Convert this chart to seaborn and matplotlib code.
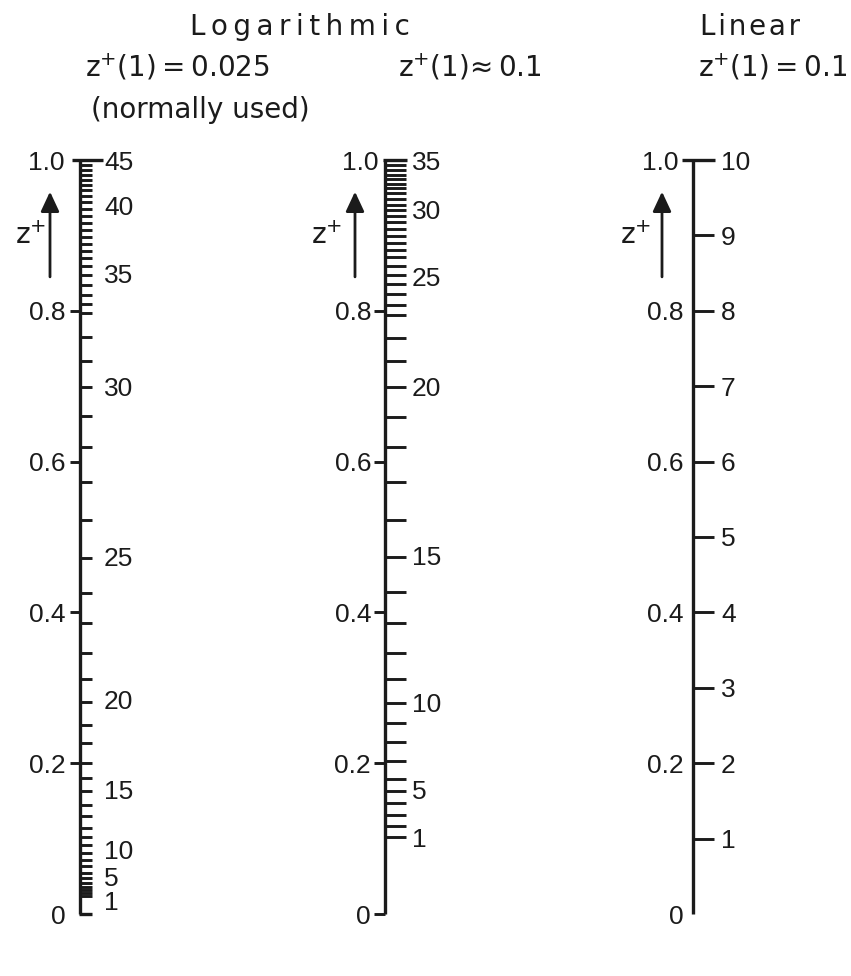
import matplotlib
matplotlib.use("Agg")
import matplotlib.pyplot as plt
import pandas as pd
import seaborn as sns

# ------------------------------------------------------------------ data
z_marks = [0.0, 0.2, 0.4, 0.6, 0.8, 1.0]
z_mark_labels = ["0", "0.2", "0.4", "0.6", "0.8", "1.0"]

# logarithmic grid, z+(1)=0.025 (normally used): z position of every grid tick
log025_ticks = [1.000, 0.993, 0.987, 0.980, 0.973, 0.967, 0.960, 0.952, 0.944,
                0.935, 0.926, 0.916, 0.907, 0.898, 0.889, 0.879, 0.870, 0.859,
                0.847, 0.834, 0.821, 0.809, 0.797, 0.765, 0.733, 0.699, 0.660,
                0.619, 0.573, 0.523, 0.472, 0.426, 0.386, 0.346, 0.312, 0.281,
                0.251, 0.227, 0.200, 0.180, 0.163, 0.145, 0.130, 0.114, 0.102,
                0.092, 0.081, 0.072, 0.064, 0.054, 0.048, 0.041, 0.036, 0.032,
                0.028, 0.024]
log025_label_values = [45, 40, 35, 30, 25, 20, 15, 10, 5, 1]
log025_label_z = [1.0, 0.940, 0.850, 0.699, 0.4735, 0.284, 0.1645, 0.085, 0.050, 0.018]

# logarithmic grid, z+(1)~0.1
log01_ticks = [1.000, 0.993, 0.987, 0.980, 0.975, 0.968, 0.963, 0.956, 0.948,
               0.940, 0.934, 0.926, 0.918, 0.908, 0.899, 0.890, 0.881, 0.871,
               0.859, 0.847, 0.836, 0.822, 0.808, 0.795, 0.764, 0.733, 0.699,
               0.659, 0.619, 0.573, 0.523, 0.473, 0.427, 0.386, 0.346, 0.312,
               0.280, 0.253, 0.228, 0.203, 0.179, 0.163, 0.147, 0.131, 0.117,
               0.102]
log01_label_values = [35, 30, 25, 20, 15, 10, 5, 1]
log01_label_z = [1.0, 0.935, 0.845, 0.699, 0.476, 0.280, 0.1645, 0.1008]

# linear grid, z+(1)=0.1
lin_ticks = [1.0, 0.9, 0.8, 0.7, 0.6, 0.5, 0.4, 0.3, 0.2, 0.1]
lin_label_values = [10, 9, 8, 7, 6, 5, 4, 3, 2, 1]
lin_label_z = [1.0, 0.9, 0.8, 0.7, 0.6, 0.5, 0.4, 0.3, 0.2, 0.1]

title_log = "Logarithmic"
title_lin = "Linear"
ZPLUS = r"$\mathregular{z^{+}}$"
sub_titles = [ZPLUS + "(1)\u2009=\u20090.025", ZPLUS + "(1)\u2248\u20090.1",
              ZPLUS + "(1)\u2009=\u20090.1"]
note = "(normally used)"

# ------------------------------------------------------------------ style / layout
W, H = 851, 976
Z0_PX, Z1_PX = 914, 160          # pixel rows of z = 0 and z = 1
INK = "#1b1b1b"
AX_LW = 2.4
TICK_LW = 2.1
NUM_FS = 19
HEAD_FS = 20

sns.set_theme(style="white")
plt.rcParams["font.family"] = ["Liberation Sans", "DejaVu Sans"]
plt.rcParams["text.color"] = INK

fig = plt.figure(figsize=(W / 100, H / 100), dpi=100)
fig.patch.set_facecolor("white")
ax = fig.add_axes([0, 0, 1, 1])
span = Z0_PX - Z1_PX

scales = [
    dict(x=80, ticks=log025_ticks, vals=log025_label_values, vz=log025_label_z,
         tick_len=12, bar=(-8, 23), zticks=[0.2, 0.4, 0.6, 0.8], ztick_len=10,
         bottom_right=True, num_dx=24, zlab_dx=14, zlab_top_dx=16,
         arrow_dx=-30, zplus_dx=-49),
    dict(x=385, ticks=log01_ticks, vals=log01_label_values, vz=log01_label_z,
         tick_len=21, bar=(-2, 22), zticks=[0.0, 0.2, 0.4, 0.6, 0.8], ztick_len=11,
         bottom_right=False, num_dx=27, zlab_dx=14, zlab_top_dx=7,
         arrow_dx=-30, zplus_dx=-58),
    dict(x=693, ticks=lin_ticks, vals=lin_label_values, vz=lin_label_z,
         tick_len=21, bar=(-11, 22), zticks=[], ztick_len=0,
         bottom_right=False, num_dx=28, zlab_dx=9, zlab_top_dx=15,
         arrow_dx=-31, zplus_dx=-57),
]

# vertical scale lines (z from 0 to 1) drawn with seaborn
rows = []
for i, s in enumerate(scales):
    rows.append({"scale": i, "x": s["x"], "z": z_marks[0]})
    rows.append({"scale": i, "x": s["x"], "z": z_marks[-1]})
lines_df = pd.DataFrame(rows)
sns.lineplot(data=lines_df, x="x", y="z", units="scale", estimator=None,
             sort=False, color=INK, lw=AX_LW, legend=False, ax=ax,
             solid_capstyle="butt")
ax.set_xlim(0, W)
ax.set_ylim(-(H - Z0_PX) / span, Z0_PX / span)
ax.axis("off")

for s in scales:
    X = s["x"]
    top = max(s["ticks"])
    # grid ticks on the right side
    inner = [t for t in s["ticks"] if t < top]
    ax.hlines(inner, X, X + s["tick_len"], color=INK, lw=TICK_LW)
    # top bar
    ax.hlines([top], X + s["bar"][0], X + s["bar"][1], color=INK, lw=AX_LW)
    # bottom tick to the right (first scale only)
    if s["bottom_right"]:
        ax.hlines([z_marks[0]], X - 1, X + s["tick_len"], color=INK, lw=AX_LW)
    # z ticks on the left side
    if s["zticks"]:
        ax.hlines(s["zticks"], X - s["ztick_len"], X, color=INK, lw=TICK_LW)
    # z labels
    for zv, lab in zip(z_marks, z_mark_labels):
        dx = s["zlab_top_dx"] if zv == z_marks[-1] else s["zlab_dx"]
        ax.text(X - dx, zv, lab, ha="right", va="center_baseline",
                fontsize=NUM_FS, color=INK)
    # grid index labels
    for v, zv in zip(s["vals"], s["vz"]):
        ax.text(X + s["num_dx"], zv, str(v), ha="left", va="center_baseline",
                fontsize=NUM_FS, color=INK)
    # z+ arrow
    ax.annotate("", xy=(X + s["arrow_dx"], 0.958), xytext=(X + s["arrow_dx"], 0.845),
                arrowprops=dict(arrowstyle="-|>,head_length=0.6,head_width=0.28",
                                mutation_scale=20, lw=2.0, color=INK,
                                shrinkA=0, shrinkB=0))
    ax.text(X + s["zplus_dx"], 0.903, ZPLUS, ha="center", va="center_baseline",
            fontsize=HEAD_FS, color=INK, family=["DejaVu Sans"])


def ftext(x, y, txt, **kw):
    fig.text(x / W, 1 - y / H, txt, ha="center", va="baseline",
             fontsize=HEAD_FS, color=INK, family=["DejaVu Sans"], **kw)


ftext(300, 35, "\u2009".join(title_log))
ftext(750, 35, "\u200a".join(title_lin))
ftext(177, 76, sub_titles[0])
ftext(470, 76, sub_titles[1])
ftext(773, 76, sub_titles[2])
ftext(200, 118, note, fontstretch="normal")

fig.savefig("out.png", dpi=100, facecolor="white")
